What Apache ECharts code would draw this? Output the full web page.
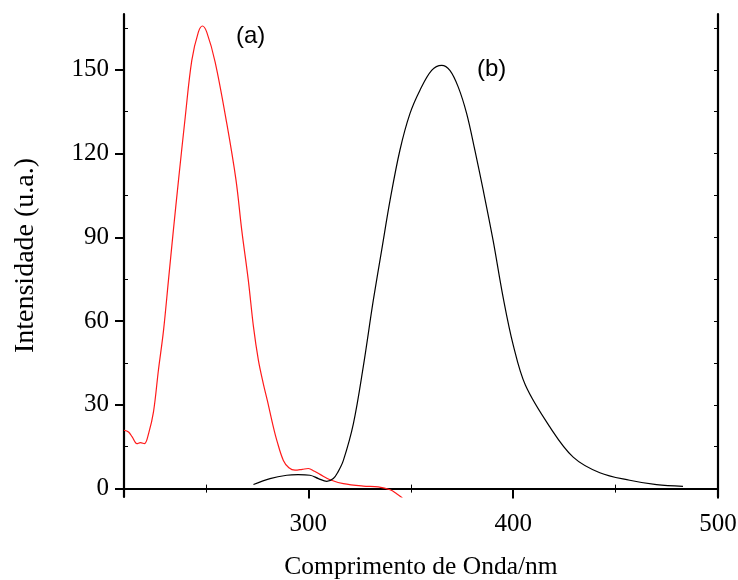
<!DOCTYPE html>
<html>
<head>
<meta charset="utf-8">
<script src="https://cdn.jsdelivr.net/npm/echarts@6/dist/echarts.min.js"></script>
<style>html,body{margin:0;padding:0;background:#fff}#c{width:738px;height:580px}</style>
</head>
<body>
<div id="c"></div>
<script>
// Curve (a) - red
var redX = [210,212.2,214,216.3,218,220,222,224.4,226.8,229.3,231.7,234.1,236.6,239.9,243.1,246.3,248.3,250.4,254.5,260.2,264.7,267.5,270.7,273.2,275.6,278,280,282.9,284.6,287.8,290.5,293.5,297,300,303,305.7,310.6,317.1,326.8,334.1,339.9,343.1,345.6,347];
var redY = [20.9,20.3,18.5,16.1,16.5,16.1,19.7,27.5,42.4,56.7,74.6,92.5,110.4,133.1,153.4,163.5,165.7,163.5,152.8,130.7,110.4,92.5,74.6,58,46,37.6,31.5,22.1,17.3,10.1,7.5,6.6,6.9,7.2,6.2,5.1,3.2,1.8,0.9,0.6,-0.4,-1.8,-3.2,-4.5];
// Curve (b) - black
var blackX = [273.2,281.3,289.5,295,300.8,304.9,309,312.2,314.5,317.1,322,326.8,331.7,335.8,339.9,344.7,349.6,354.5,360.2,365.1,369.1,373.2,377.3,381.3,385.4,390.2,395.1,400,406,417.9,429.3,442.3,456.9,470,482.9];
var blackY = [1.5,3.6,4.8,5.0,4.8,3.6,2.6,3.6,6,10.1,23.3,43.6,67.4,85.4,103.3,121.2,134.3,142.7,149.8,151.6,149.8,143.8,134.3,121.2,106.8,88.9,68.5,51.5,37,22.1,11.3,5.7,3.0,1.4,0.8];
// Tick labels
var xTicks = [300,400,500];
var xMinor = [250,350,450];
var xTopTicks = [250,300,350,400,450];
var yTicks = [0,30,60,90,120,150];
var yMinor = [15,45,75,105,135,165];
var yRightTicks = [0,15,30,45,60,75,90,105,120,135,150,165];

function pairs(xs, ys){ return xs.map(function(x,i){ return [x, ys[i]]; }); }

var serif = 'Liberation Serif, Times New Roman, serif';
var line = {show:true, lineStyle:{color:'#000', width:2.2}};

var chart = echarts.init(document.getElementById('c'));
chart.setOption({
  animation:false,
  backgroundColor:'#fff',
  grid:{left:124, right:20, top:14, bottom:83, containLabel:false, outerBoundsMode:'none'},
  xAxis:[
    {type:'value', min:210, max:500, position:'bottom',
     axisLine:line, splitLine:{show:false},
     axisTick:{show:true, inside:false, length:10, lineStyle:{width:2,color:'#000'}, customValues:xTicks},
     axisLabel:{show:true, customValues:xTicks, color:'#000', fontFamily:serif, fontSize:25, margin:15},
     name:'Comprimento de Onda/nm', nameLocation:'middle', nameGap:57,
     nameTextStyle:{color:'#000', fontFamily:serif, fontSize:25.5}},
    {type:'value', min:210, max:500, position:'bottom', gridIndex:0,
     axisLine:{show:false}, splitLine:{show:false},
     axisTick:{show:true, inside:true, length:4, lineStyle:{width:1,color:'#000'}, customValues:xMinor},
     axisLabel:{show:false}},
    {type:'value', min:210, max:500, position:'top',
     axisLine:line, splitLine:{show:false},
     axisTick:{show:true, inside:true, length:4, lineStyle:{width:1,color:'#000'}, customValues:xTopTicks},
     axisLabel:{show:false}}
  ],
  yAxis:[
    {type:'value', min:-3, max:170, position:'left',
     axisLine:line, splitLine:{show:false},
     axisTick:{show:true, inside:false, length:9, lineStyle:{width:2,color:'#000'}, customValues:yTicks},
     axisLabel:{show:true, customValues:yTicks, color:'#000', fontFamily:serif, fontSize:25, margin:15},
     name:'Intensidade (u.a.)', nameLocation:'middle', nameGap:84, nameRotate:90,
     nameTextStyle:{color:'#000', fontFamily:serif, fontSize:28}},
    {type:'value', min:-3, max:170, position:'left',
     axisLine:{show:false}, splitLine:{show:false},
     axisTick:{show:true, inside:true, length:4, lineStyle:{width:1,color:'#000'}, customValues:yMinor},
     axisLabel:{show:false}},
    {type:'value', min:-3, max:170, position:'right',
     axisLine:line, splitLine:{show:false},
     axisTick:{show:true, inside:true, length:4, lineStyle:{width:1,color:'#000'}, customValues:yRightTicks},
     axisLabel:{show:false}}
  ],
  series:[
    {type:'line', xAxisIndex:0, yAxisIndex:0, data:pairs(redX, redY), smooth:0.35,
     showSymbol:false, clip:true, lineStyle:{color:'#ff1a1a', width:1.2}},
    {type:'line', xAxisIndex:0, yAxisIndex:0, data:pairs(blackX, blackY), smooth:0.35,
     showSymbol:false, clip:true, lineStyle:{color:'#000', width:1.2}}
  ],
  graphic:[
    {type:'text', left:236, top:24, style:{text:'(a)', fill:'#000', font:'24px Liberation Sans, Arial, sans-serif'}},
    {type:'text', left:477, top:57, style:{text:'(b)', fill:'#000', font:'24px Liberation Sans, Arial, sans-serif'}}
  ]
});
</script>
</body>
</html>
